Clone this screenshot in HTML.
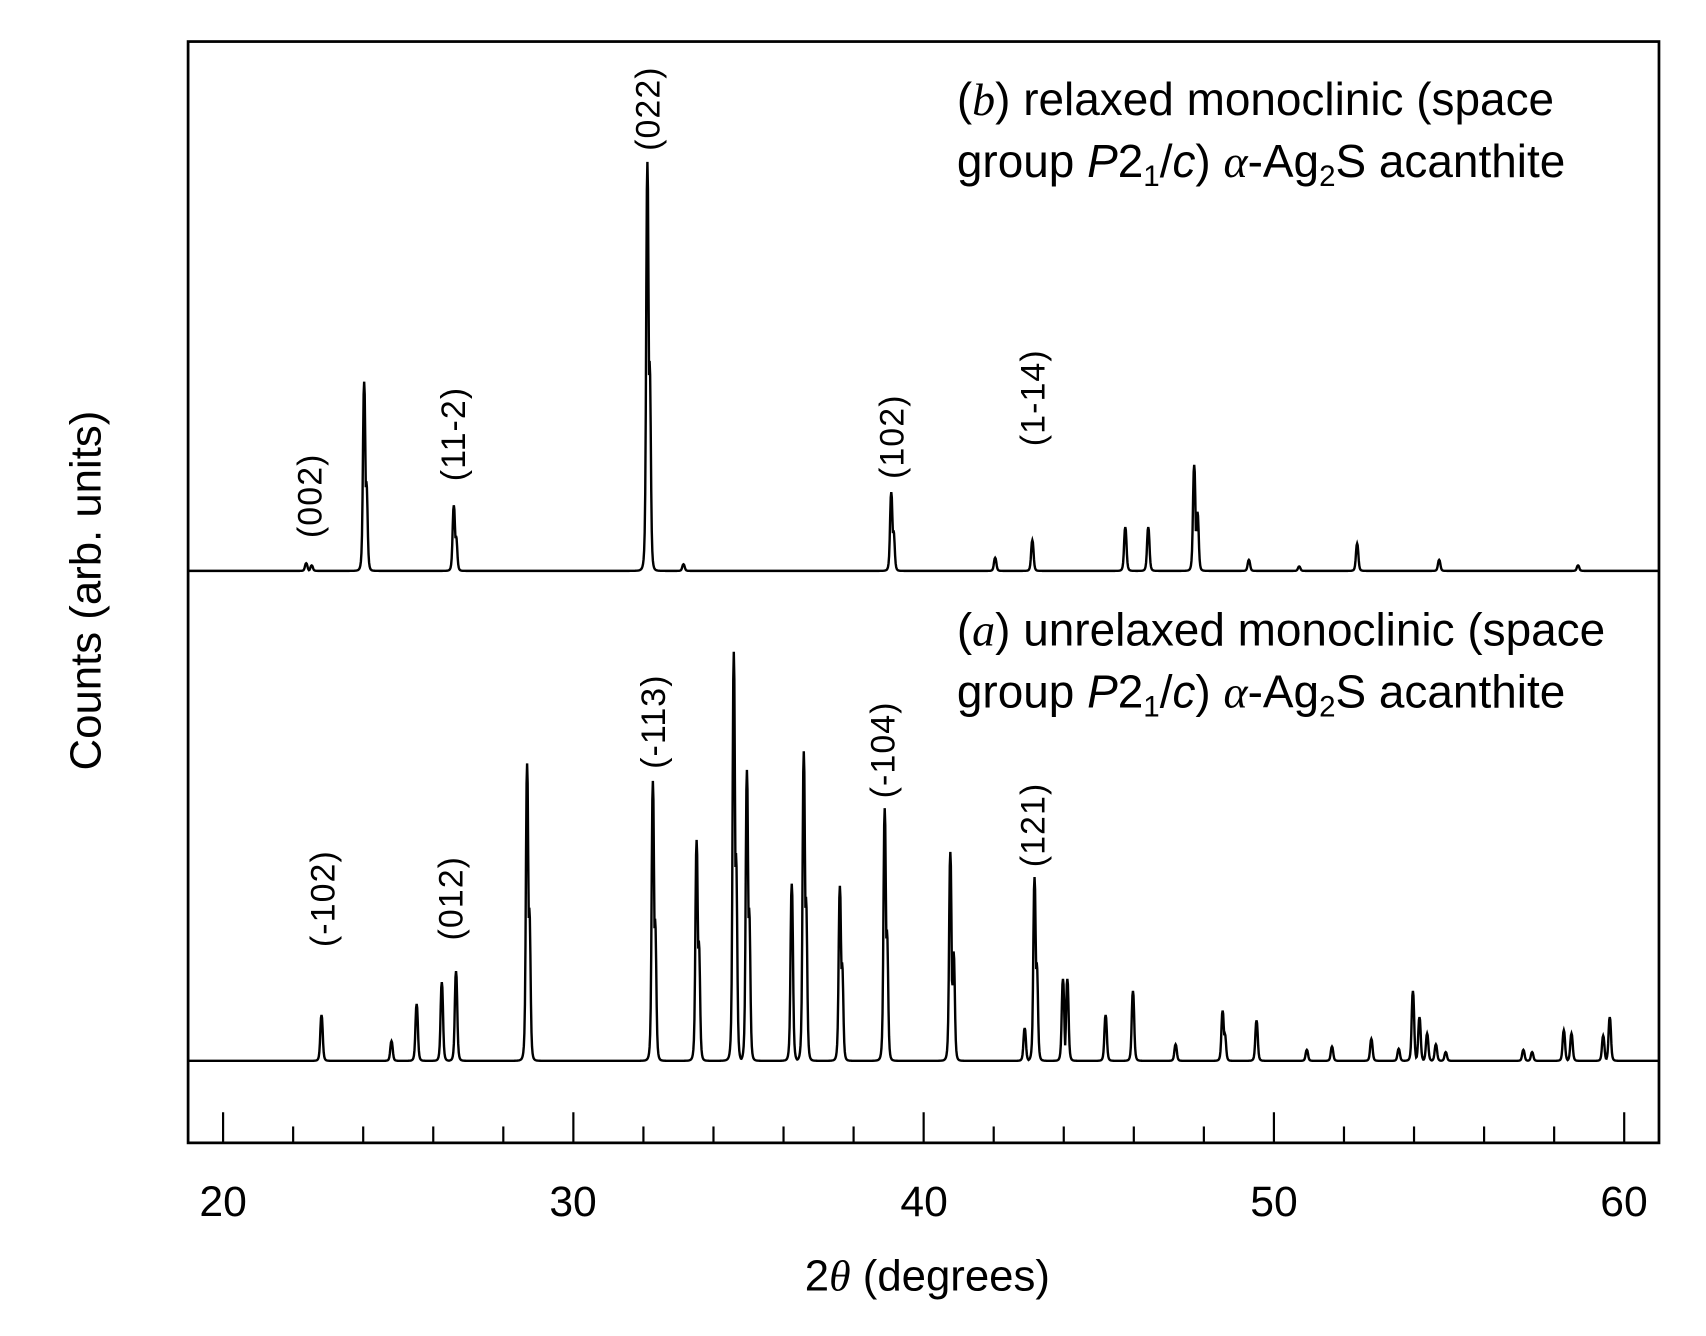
<!DOCTYPE html>
<html><head><meta charset="utf-8"><style>
html,body{margin:0;padding:0;background:#fff;}
svg{display:block}
text{font-family:"Liberation Sans",sans-serif;fill:#000}
</style></head><body>
<svg id="s" width="1706" height="1336" viewBox="0 0 1560 1221.6" preserveAspectRatio="none" xmlns="http://www.w3.org/2000/svg">
<rect x="172" y="38" width="1345" height="1007" fill="none" stroke="#000" stroke-width="2.5"/>
<g id="ticks" stroke="#000" stroke-width="2"></g>
<path id="pb" fill="none" stroke="#000" stroke-width="2.2"/>
<path id="pa" fill="none" stroke="#000" stroke-width="2.2"/>
<g font-size="39" text-anchor="middle">
<text x="204" y="1112">20</text><text x="524" y="1112">30</text><text x="845" y="1112">40</text><text x="1165" y="1112">50</text><text x="1485" y="1112">60</text>
</g>
<text x="848" y="1180" font-size="40" text-anchor="middle">2<tspan font-family="Liberation Serif" font-style="italic">θ</tspan> (degrees)</text>
<text transform="translate(92,540) rotate(-90)" font-size="40" text-anchor="middle">Counts (arb. units)</text>
<g font-size="42">
<text x="875" y="105">(<tspan font-family="Liberation Serif" font-style="italic">b</tspan>) relaxed monoclinic (space</text>
<text x="875" y="162">group <tspan font-style="italic">P</tspan>2<tspan font-size="27" dy="8">1</tspan><tspan dy="-8">/</tspan><tspan font-style="italic">c</tspan>) <tspan font-family="Liberation Serif" font-style="italic">α</tspan>-Ag<tspan font-size="27" dy="8">2</tspan><tspan dy="-8">S acanthite</tspan></text>
<text x="875" y="590">(<tspan font-family="Liberation Serif" font-style="italic">a</tspan>) unrelaxed monoclinic (space</text>
<text x="875" y="647">group <tspan font-style="italic">P</tspan>2<tspan font-size="27" dy="8">1</tspan><tspan dy="-8">/</tspan><tspan font-style="italic">c</tspan>) <tspan font-family="Liberation Serif" font-style="italic">α</tspan>-Ag<tspan font-size="27" dy="8">2</tspan><tspan dy="-8">S acanthite</tspan></text>
</g>
<g font-size="31" letter-spacing="1">
<text transform="translate(294,492) rotate(-90)">(002)</text>
<text transform="translate(425,440) rotate(-90)">(11-2)</text>
<text transform="translate(603,138) rotate(-90)">(022)</text>
<text transform="translate(826,438) rotate(-90)">(102)</text>
<text transform="translate(955,408) rotate(-90)">(1-14)</text>
<text transform="translate(306,866) rotate(-90)">(-102)</text>
<text transform="translate(423,860) rotate(-90)">(012)</text>
<text transform="translate(608,703) rotate(-90)">(-113)</text>
<text transform="translate(818,730) rotate(-90)">(-104)</text>
<text transform="translate(955,793) rotate(-90)">(121)</text>
</g>
</svg>
<script>
var t=document.getElementById('ticks'),h='';
for(var d=20;d<=61;d+=2){var x=204+(d-20)*32.03;var maj=(d%10==0);h+='<line x1="'+x+'" x2="'+x+'" y1="1045" y2="'+(maj?1017:1030)+'"/>';}
t.innerHTML=h;
function mk(base,pk){var s='';for(var x=172;x<=1517;x+=0.5){var m=0;for(var i=0;i<pk.length;i++){var dx=(x-pk[i][0])/1.3;var v=(base-pk[i][1])/(1+dx*dx*dx*dx*0.6+dx*dx*0.4);if(v>m)m=v;}var y=base-m;s+=(x==172?'M':'L')+x+' '+y.toFixed(2);}return s;}
var B=[[280,515],[285,517],[333,349],[335,440],[415,462],[417,490],[592,148],[594,330],[625,516],[815,450],[817,485],[910,510],[944,494],[1029,482],[1050,482],[1092,425],[1095,468],[1142,512],[1188,518],[1241,497],[1316,512],[1443,517]];
var A=[[294,928],[358,952],[381,918],[404,898],[417,888],[482,698],[484,830],[597,714],[599,840],[637,768],[639,860],[671,596],[673,780],[683,704],[685,830],[724,808],[735,687],[737,820],[768,810],[770,880],[809,739],[811,850],[869,779],[872,870],[937,940],[946,802],[948,880],[972,895],[976,895],[1011,928],[1036,906],[1075,955],[1118,924],[1120,945],[1149,933],[1195,960],[1218,957],[1254,950],[1279,959],[1292,906],[1298,930],[1305,945],[1313,955],[1322,962],[1393,960],[1401,962],[1430,942],[1437,945],[1466,947],[1472,930]];
document.getElementById('pb').setAttribute('d',mk(522,B));
document.getElementById('pa').setAttribute('d',mk(970,A));
</script>
</body></html>
